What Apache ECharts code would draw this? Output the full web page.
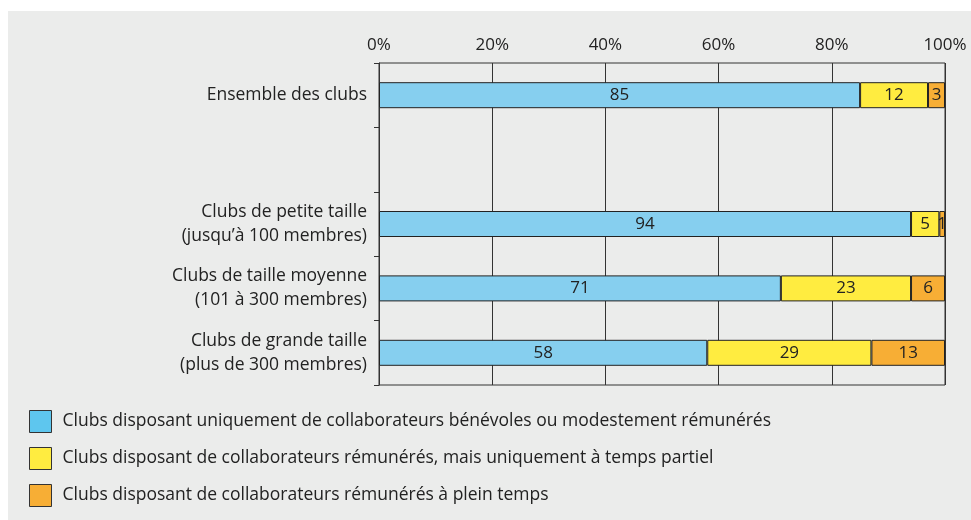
<!DOCTYPE html>
<html>
<head>
<meta charset="utf-8">
<script src="https://cdn.jsdelivr.net/npm/echarts@6/dist/echarts.min.js"></script>
<style>
	html, body { margin: 0; padding: 0; background: #fff; }
	#chart { width: 971px; height: 520px; }
</style>
</head>
<body>
<div id="chart"></div>
<script>
// catégories (la deuxième est une ligne vide)
const categories = [
	"Ensemble des clubs",
	"",
	"Clubs de petite taille\n(jusqu’à 100 membres)",
	"Clubs de taille moyenne\n(101 à 300 membres)",
	"Clubs de grande taille\n(plus de 300 membres)",
];
const seriesNames = [
	"Clubs disposant uniquement de collaborateurs bénévoles ou modestement rémunérés",
	"Clubs disposant de collaborateurs rémunérés, mais uniquement à temps partiel",
	"Clubs disposant de collaborateurs rémunérés à plein temps",
];
const benevoles = [85, null, 94, 71, 58];
const tempsPartiel = [12, null, 5, 23, 29];
const pleinTemps = [3, null, 1, 6, 13];
const xTicks = [0, 20, 40, 60, 80, 100];

const barColors = ["#86cfef", "#ffec40", "#f7ae35"];
const legendColors = ["#5ec6ee", "#ffec40", "#f7ae35"];
const FONT = "Open Sans";

const makeSeries = (name, data, i) => ({
	name,
	type: "bar",
	stack: "total",
	data,
	barWidth: 26,
	itemStyle: { color: barColors[i], borderColor: "#222", borderWidth: 1 },
	label: {
		show: true,
		position: "inside",
		color: "#222",
		fontFamily: FONT,
		fontSize: 17,
		formatter: (p) => (p.value == null ? "" : p.value),
	},
	emphasis: { disabled: true },
});

const chart = echarts.init(document.getElementById("chart"), null, { renderer: "canvas" });
chart.setOption({
	backgroundColor: "#fff",
	animation: false,
	textStyle: { fontFamily: FONT },
	graphic: [
		{
			type: "rect",
			silent: true,
			z: -10,
			shape: { x: 8, y: 11, width: 971, height: 520 },
			style: { fill: "#ebeceb" },
		},
	],
	grid: {
		left: 379,
		right: 26,
		top: 63,
		bottom: 135,
		show: true,
		borderColor: "#333",
		borderWidth: 1,
		backgroundColor: "transparent",
	},
	xAxis: {
		type: "value",
		position: "top",
		min: 0,
		max: 100,
		interval: 20,
		axisLine: { show: false },
		axisTick: { show: false },
		splitLine: { show: true, lineStyle: { color: "#333", width: 1 } },
		axisLabel: {
			color: "#222",
			fontFamily: FONT,
			fontSize: 17,
			margin: 9,
			formatter: (v) => (xTicks.includes(v) ? v + "%" : ""),
		},
	},
	yAxis: {
		type: "category",
		inverse: true,
		data: categories,
		axisLine: { show: true, lineStyle: { color: "#333" } },
		axisTick: { show: true, length: 5, lineStyle: { color: "#333" } },
		axisLabel: {
			color: "#222",
			fontFamily: FONT,
			fontSize: 17.5,
			lineHeight: 24,
			margin: 12,
			align: "right",
		},
	},
	legend: {
		orient: "vertical",
		left: 29,
		top: 410,
		padding: 0,
		itemWidth: 22,
		itemHeight: 22,
		itemGap: 14,
		icon: "rect",
		selectedMode: false,
		textStyle: { color: "#222", fontFamily: FONT, fontSize: 17.5, lineHeight: 22, padding: [0, 0, 0, 6] },
		data: seriesNames.map((n, i) => ({
			name: n,
			itemStyle: { color: legendColors[i], borderColor: "#333", borderWidth: 1 },
		})),
	},
	series: [
		makeSeries(seriesNames[0], benevoles, 0),
		makeSeries(seriesNames[1], tempsPartiel, 1),
		makeSeries(seriesNames[2], pleinTemps, 2),
	],
});
</script>
</body>
</html>
